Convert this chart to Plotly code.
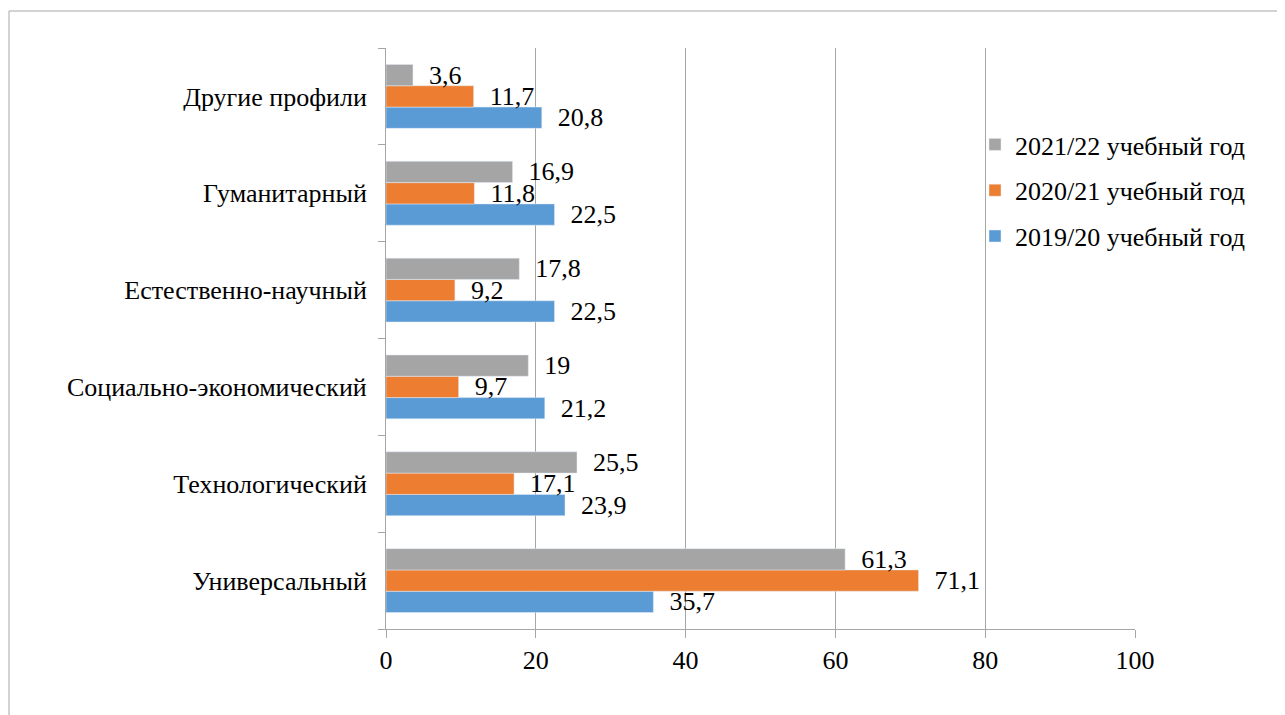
import plotly.graph_objects as go

categories = ["Универсальный", "Технологический", "Социально-экономический",
              "Естественно-научный", "Гуманитарный", "Другие профили"]
series_names = ["2019/20 учебный год", "2020/21 учебный год", "2021/22 учебный год"]
v_2019 = [35.7, 23.9, 21.2, 22.5, 22.5, 20.8]
v_2020 = [71.1, 17.1, 9.7, 9.2, 11.8, 11.7]
v_2021 = [61.3, 25.5, 19, 17.8, 16.9, 3.6]
colors = ["#5b9bd5", "#ed7d31", "#a5a5a5"]
legend_ranks = [3, 2, 1]
x_ticks = [0, 20, 40, 60, 80, 100]

FONT = "Liberation Serif"
FS = 26
NB = "\u00a0"

def fmt(v):
    s = ("%g" % v).replace(".", ",")
    return NB * 2 + s

fig = go.Figure()
for i, (name, vals, col) in enumerate(zip(series_names, [v_2019, v_2020, v_2021], colors)):
    fig.add_trace(go.Bar(
        y=categories, x=vals, name=name, orientation="h",
        legendgroup="g%d" % i, legendrank=legend_ranks[i],
        marker=dict(color=col),
        text=[fmt(v) for v in vals], textposition="outside",
        textfont=dict(family=FONT, size=FS),
        constraintext="none", cliponaxis=False,
    ))

# page has an 8px body offset; plot area targeted at x 386..1135, y 48..629 on screen
OFF = 8
W, H = 1277, 707
L, T = 386 - OFF, 48 - OFF
pw, ph = 749, 581
R, B = W - L - pw, H - T - ph

fig.update_layout(
    width=W, height=H,
    margin=dict(l=L, r=R, t=T, b=B),
    paper_bgcolor="white", plot_bgcolor="white",
    barmode="group", bargap=0.34, bargroupgap=0,
    font=dict(family=FONT, size=FS, color="#000000"),
    legend=dict(
        x=(975 - 386) / pw, y=(629 - 121) / ph, xanchor="left", yanchor="top",
        traceorder="grouped",
        bgcolor="rgba(0,0,0,0)", tracegroupgap=9,
    ),
    xaxis=dict(
        range=[0, 100], tickvals=x_ticks,
        showgrid=True, gridcolor="#a6a6a6", gridwidth=1,
        showline=True, linecolor="#a6a6a6", linewidth=1,
        ticks="outside", ticklen=8, tickcolor="#a6a6a6",
        zeroline=False,
    ),
    yaxis=dict(
        categoryorder="array", categoryarray=categories,
        showline=True, linecolor="#a6a6a6", linewidth=1,
        ticks="outside", ticklen=7, tickcolor="#a6a6a6", tickson="boundaries",
        showgrid=False, ticksuffix=NB * 2,
    ),
    shapes=[dict(
        type="rect", xref="paper", yref="paper",
        x0=(9 - 386) / pw, x1=(1320 - 386) / pw,
        y0=(629 - 740) / ph, y1=(629 - 11) / ph,
        line=dict(color="#a6a6a6", width=1), fillcolor="rgba(0,0,0,0)", layer="below",
    )],
)

fig.write_html("out.html")
